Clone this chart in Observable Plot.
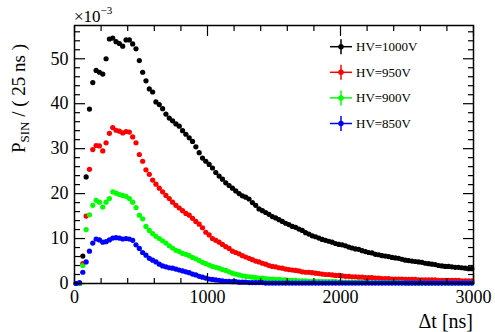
<!DOCTYPE html>
<html><head><meta charset="utf-8">
<script src="https://cdn.jsdelivr.net/npm/d3@7"></script>
<script src="https://cdn.jsdelivr.net/npm/@observablehq/plot@0.6"></script>
<style>
body{margin:0;background:#fff;}
#chart svg{display:block;}
</style>
</head><body><div id="chart"></div>
<script>
// ---- data (values in units of 10^-3, 25 ns bins from 0 to 3000 ns) ----
const binWidth = 25;
const seriesNames = ["HV=1000V", "HV=950V", "HV=900V", "HV=850V"];
const seriesColors = ["#000000", "#ff0000", "#00ff00", "#0000ff"];

const hv1000 = [0,0,6.1,23.7,38.8,44.7,47.4,47.0,46.6,50.0,
54.4,54.6,53.8,53.4,52.8,54.2,54.2,53.3,52.2,49.6,
47.0,45.1,43.3,42.6,40.4,39.8,38.9,37.7,36.8,36.2,
35.5,35.0,34.0,33.2,32.4,31.6,30.4,29.1,27.9,27.2,
26.5,25.7,24.7,23.9,23.2,22.4,21.8,21.2,20.6,20.0,
19.5,19.2,18.8,18.0,17.4,16.6,16.2,15.8,15.4,14.9,
14.6,14.2,13.8,13.4,13.1,12.7,12.5,12.1,11.8,11.3,
11.0,10.6,10.4,10.1,9.8,9.6,9.4,9.2,8.9,8.7,
8.6,8.4,8.1,7.9,7.7,7.6,7.3,7.1,6.9,6.8,
6.5,6.4,6.2,6.1,6.0,5.8,5.7,5.6,5.4,5.2,
5.1,5.0,4.9,4.8,4.7,4.5,4.4,4.3,4.2,4.0,
3.9,3.8,3.8,3.7,3.6,3.6,3.5,3.4,3.3,3.3];

const hv950 = [0,0,4.4,15.0,25.4,29.8,30.7,30.6,29.5,31.3,
33.4,34.7,34.1,33.9,33.5,33.8,33.7,32.6,31.3,28.7,
27.2,25.3,24.3,23.0,22.1,21.2,20.4,19.6,18.9,18.1,
17.4,16.8,16.2,15.6,15.2,14.5,13.8,13.2,12.4,11.4,
10.8,10.0,9.6,9.2,8.7,8.2,7.8,7.2,6.9,6.6,
6.2,5.9,5.6,5.3,5.0,4.8,4.5,4.3,4.0,3.8,
3.7,3.5,3.4,3.2,3.1,3.0,2.9,2.8,2.6,2.5,
2.5,2.4,2.3,2.2,2.1,2.0,2.0,1.9,1.8,1.8,
1.7,1.6,1.6,1.5,1.5,1.4,1.4,1.3,1.3,1.3,
1.2,1.2,1.1,1.1,1.1,1.0,1.0,1.0,1.0,0.9,
0.9,0.9,0.9,0.8,0.8,0.8,0.8,0.8,0.8,0.7,
0.7,0.7,0.7,0.7,0.7,0.7,0.6,0.6,0.6,0.6];

const hv900 = [0,0,4.0,12.0,15.3,17.4,18.5,18.1,17.0,18.1,
18.9,20.4,20.1,19.8,19.6,19.4,18.9,18.1,16.9,15.2,
14.4,12.7,11.8,11.1,10.5,10.0,9.5,9.0,8.4,7.9,
7.4,7.1,6.7,6.5,6.2,5.8,5.5,5.1,4.7,4.4,
4.1,3.8,3.6,3.4,3.1,2.9,2.6,2.3,2.1,1.9,
1.7,1.6,1.5,1.4,1.3,1.2,1.2,1.1,1.0,1.0,
0.9,0.9,0.8,0.8,0.7,0.7,0.7,0.6,0.6,0.6,
0.5,0.5,0.5,0.5,0.4,0.4,0.4,0.4,0.4,0.3,
0.3,0.3,0.3,0.3,0.3,0.3,0.3,0.2,0.2,0.2,
0.2,0.2,0.2,0.2,0.2,0.2,0.2,0.2,0.2,0.1,
0.1,0.1,0.1,0.1,0.1,0.1,0.1,0.1,0.1,0.1,
0.1,0.1,0.1,0.1,0.1,0.1,0.1,0.1,0.1,0.1];

const hv850 = [0,0.2,2.5,4.8,7.2,9.0,9.9,9.7,9.2,9.3,
9.7,10.1,10.2,10.1,9.9,10.0,9.9,9.6,8.6,7.8,
6.9,6.3,5.6,5.2,4.8,4.3,3.9,3.7,3.5,3.4,
3.2,3.0,2.8,2.6,2.4,2.1,1.9,1.6,1.4,1.2,
1.0,0.9,0.8,0.7,0.6,0.5,0.5,0.4,0.4,0.3,
0.3,0.3,0.2,0.2,0.2,0.2,0.2,0.1,0.1,0.1,
0.1,0.1,0.1,0.1,0.1,0.1,0.1,0.1,0.1,0.1,
0.1,0.1,0.1,0.1,0.1,0.1,0.1,0.1,0.1,0.1,
0.1,0.1,0.1,0.1,0.1,0.1,0.1,0.1,0.1,0.1,
0.1,0.1,0.1,0.1,0.1,0.1,0.1,0.1,0.1,0.1,
0.1,0.1,0.1,0.1,0.1,0.1,0.1,0.1,0.1,0.1,
0.1,0.1,0.1,0.1,0.1,0.1,0.1,0.1,0.1,0.1];

const xMajorTicks = [0, 1000, 2000, 3000];
const xMinorTicks = [200,400,600,800,1200,1400,1600,1800,2200,2400,2600,2800];
const yMajorTicks = [0, 10, 20, 30, 40, 50];
const yMinorTicks = [2,4,6,8,12,14,16,18,22,24,26,28,32,34,36,38,42,44,46,48,52,54,56];

const xTitle = "Δt [ns]";
const yTitleMain = "P";
const yTitleSub = "SIN";
const yTitleRest = " / ( 25 ns )";

// ---- build table ----
const allSeries = [hv1000, hv950, hv900, hv850];
const rows = [];
allSeries.forEach((vals, s) => vals.forEach((v, k) => rows.push({
  t: binWidth * (k + 0.5), t1: binWidth * k, t2: binWidth * (k + 1), p: v, series: seriesNames[s]
})));

const font = "Liberation Serif, Times New Roman, serif";
const tickOpts = {stroke: "black", strokeWidth: 1.2, label: null, tickFormat: () => ""};

const plot = Plot.plot({
  width: 495, height: 332,
  marginLeft: 74, marginRight: 22, marginTop: 25, marginBottom: 49,
  x: {domain: [0, 3000]},
  y: {domain: [0, 57.4]},
  color: {domain: seriesNames, range: seriesColors},
  style: {fontFamily: font, background: "white", color: "black", overflow: "visible"},
  marks: [
    // per-series: bin-width error bar, then marker (series drawn in order)
    ...seriesNames.map(name => [
      Plot.ruleY(rows.filter(d => d.series === name), {x1: "t1", x2: "t2", y: "p", stroke: "series", strokeWidth: 1.3}),
      Plot.dot(rows.filter(d => d.series === name), {x: "t", y: "p", fill: "series", r: 2.6, stroke: null})
    ]).flat(),
    // inward ticks
    Plot.axisX(xMajorTicks, {...tickOpts, anchor: "bottom", tickSize: 10, dy: -10}),
    Plot.axisX(xMinorTicks, {...tickOpts, anchor: "bottom", tickSize: 5, dy: -5}),
    Plot.axisX(xMajorTicks, {...tickOpts, anchor: "top", tickSize: 10, dy: 10}),
    Plot.axisX(xMinorTicks, {...tickOpts, anchor: "top", tickSize: 5, dy: 5}),
    Plot.axisY(yMajorTicks, {...tickOpts, anchor: "left", tickSize: 11, dx: 11}),
    Plot.axisY(yMinorTicks, {...tickOpts, anchor: "left", tickSize: 6, dx: 6}),
    Plot.axisY(yMajorTicks, {...tickOpts, anchor: "right", tickSize: 11, dx: -11}),
    Plot.axisY(yMinorTicks, {...tickOpts, anchor: "right", tickSize: 6, dx: -6}),
    // tick labels
    Plot.axisX(xMajorTicks, {anchor: "bottom", tickSize: 0, tickPadding: 7, fontSize: 18, fontFamily: font, label: null, tickFormat: d => String(d)}),
    Plot.axisY(yMajorTicks, {anchor: "left", tickSize: 0, tickPadding: 6, fontSize: 18, fontFamily: font, label: null, tickFormat: d => String(d)}),
    Plot.frame({stroke: "black", strokeWidth: 1.5})
  ]
});
document.getElementById("chart").appendChild(plot);

// ---- titles, exponent and legend ----
const svg = d3.select(plot);
svg.append("text").attr("x", 473).attr("y", 328).attr("text-anchor", "end")
  .attr("font-size", 20).attr("font-family", font).attr("fill", "black").text(xTitle);

const yt = svg.append("text").attr("transform", "translate(25,44) rotate(-90)").attr("text-anchor", "end")
  .attr("font-size", 19).attr("font-family", font).attr("fill", "black");
yt.append("tspan").text(yTitleMain);
yt.append("tspan").attr("font-size", 13).attr("dy", 4).text(yTitleSub);
yt.append("tspan").attr("dy", -4).text(yTitleRest);

const ex = svg.append("text").attr("x", 74).attr("y", 22).attr("font-size", 17).attr("text-anchor", "start")
  .attr("font-family", font).attr("fill", "black");
ex.append("tspan").text("×10");
ex.append("tspan").attr("font-size", 11).attr("dy", -8).text("−3");

const lg = svg.append("g");
seriesNames.forEach((name, i) => {
  const cy = 46.7 + i * 25.6;
  const g = lg.append("g");
  g.append("line").attr("x1", 330).attr("x2", 352).attr("y1", cy).attr("y2", cy)
    .attr("stroke", seriesColors[i]).attr("stroke-width", 1.5);
  g.append("line").attr("x1", 341).attr("x2", 341).attr("y1", cy - 7.5).attr("y2", cy + 7.5)
    .attr("stroke", seriesColors[i]).attr("stroke-width", 1.5);
  g.append("circle").attr("cx", 341).attr("cy", cy).attr("r", 2.7).attr("fill", seriesColors[i]);
  g.append("text").attr("x", 356).attr("y", cy).attr("dy", "0.35em").attr("font-size", 13)
    .attr("text-anchor", "start").attr("font-family", font).attr("fill", "black").text(name);
});
</script>
</body></html>
